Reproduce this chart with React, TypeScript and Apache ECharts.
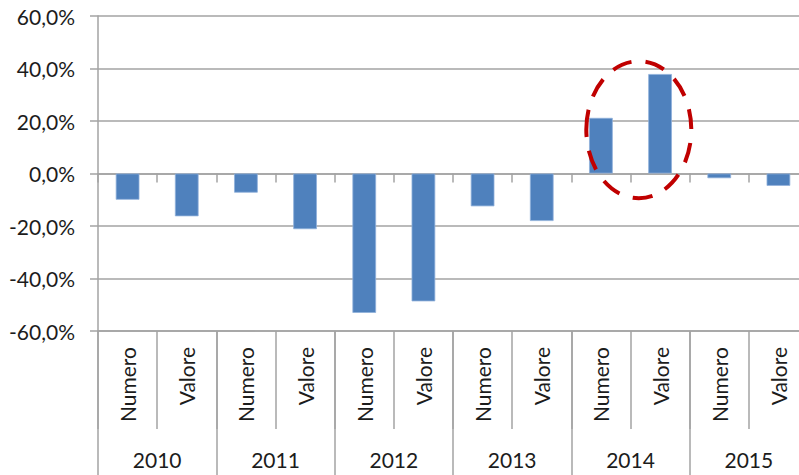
import React, { useEffect, useRef } from "react";
import * as echarts from "echarts";

const years = ["2010", "2011", "2012", "2013", "2014", "2015"];
const measures = ["Numero", "Valore"];
const numeroValues = [-10.0, -7.3, -53.1, -12.5, 21.2, -1.8];
const valoreValues = [-16.3, -21.2, -48.7, -18.1, 37.9, -4.7];
const yTicks = { min: -60, max: 60, interval: 20 };

const categories: string[] = [];
const barData: number[] = [];
years.forEach((y, i) => {
  categories.push(`${y}|${measures[0]}`);
  barData.push(numeroValues[i]);
  categories.push(`${y}|${measures[1]}`);
  barData.push(valoreValues[i]);
});

const GRAY = "#A3A3A3";
const TEXT = "#1c1c1c";
const FONT = "Lato";
const FS = 21;

export default function App() {
  const ref = useRef<HTMLDivElement>(null);
  useEffect(() => {
    document.body.style.margin = "0";
    if (!ref.current) return;
    const chart = echarts.init(ref.current, undefined, { renderer: "svg" });
    chart.setOption({
      animation: false,
      backgroundColor: "#ffffff",
      grid: { left: 98, right: 0, top: 16, bottom: 144, containLabel: false },
      xAxis: [
        {
          type: "category",
          data: categories,
          position: "bottom",
          axisLine: { show: true, onZero: false, lineStyle: { color: GRAY, width: 1.5 } },
          axisTick: { show: true, interval: 0, length: 98, lineStyle: { color: GRAY, width: 1.5 } },
          axisLabel: {
            interval: 0,
            rotate: 90,
            margin: 16,
            fontSize: FS,
            fontFamily: FONT,
            color: TEXT,
            formatter: (v: string) => v.split("|")[1],
          },
          splitLine: { show: false },
        },
        {
          type: "category",
          data: years,
          position: "bottom",
          axisLine: { show: false, onZero: false },
          axisTick: { show: true, interval: 0, length: 170, lineStyle: { color: GRAY, width: 1.5 } },
          axisLabel: {
            interval: 0,
            margin: 118,
            fontSize: FS,
            fontFamily: FONT,
            color: TEXT,
          },
          splitLine: { show: false },
        },
        {
          type: "category",
          data: categories,
          position: "bottom",
          axisLine: { show: true, onZero: true, lineStyle: { color: GRAY, width: 1.5 } },
          axisTick: { show: true, interval: 0, length: 9, lineStyle: { color: GRAY, width: 1.5 } },
          axisLabel: { show: false },
          splitLine: { show: false },
        },
      ],
      yAxis: {
        type: "value",
        min: yTicks.min,
        max: yTicks.max,
        interval: yTicks.interval,
        axisLine: { show: true, lineStyle: { color: GRAY, width: 1.5 } },
        axisTick: { show: true, length: 8, lineStyle: { color: GRAY, width: 1.5 } },
        axisLabel: {
          margin: 23,
          fontSize: FS,
          fontFamily: FONT,
          color: TEXT,
          formatter: (v: number) => v.toFixed(1).replace(".", ",") + "%",
        },
        splitLine: { show: true, lineStyle: { color: GRAY, width: 1.5 } },
      },
      series: [
        {
          type: "bar",
          xAxisIndex: 0,
          data: barData,
          barWidth: "40%",
          itemStyle: { color: "#4F81BD", borderColor: "#8FB0DA", borderWidth: 0.8 },
          z: 1,
        },
      ],
      graphic: [
        {
          type: "ellipse",
          shape: { cx: 638.8, cy: 129.7, rx: 52.5, ry: 68.5 },
          style: { fill: "none", stroke: "#C00000", lineWidth: 4, lineDash: [20, 14] },
          z: 100,
        },
      ],
    });
    return () => chart.dispose();
  }, []);
  return (
    <div style={{ width: 799, height: 475, overflow: "hidden", position: "relative" }}>
      <div ref={ref} style={{ width: 808, height: 475 }} />
    </div>
  );
}
